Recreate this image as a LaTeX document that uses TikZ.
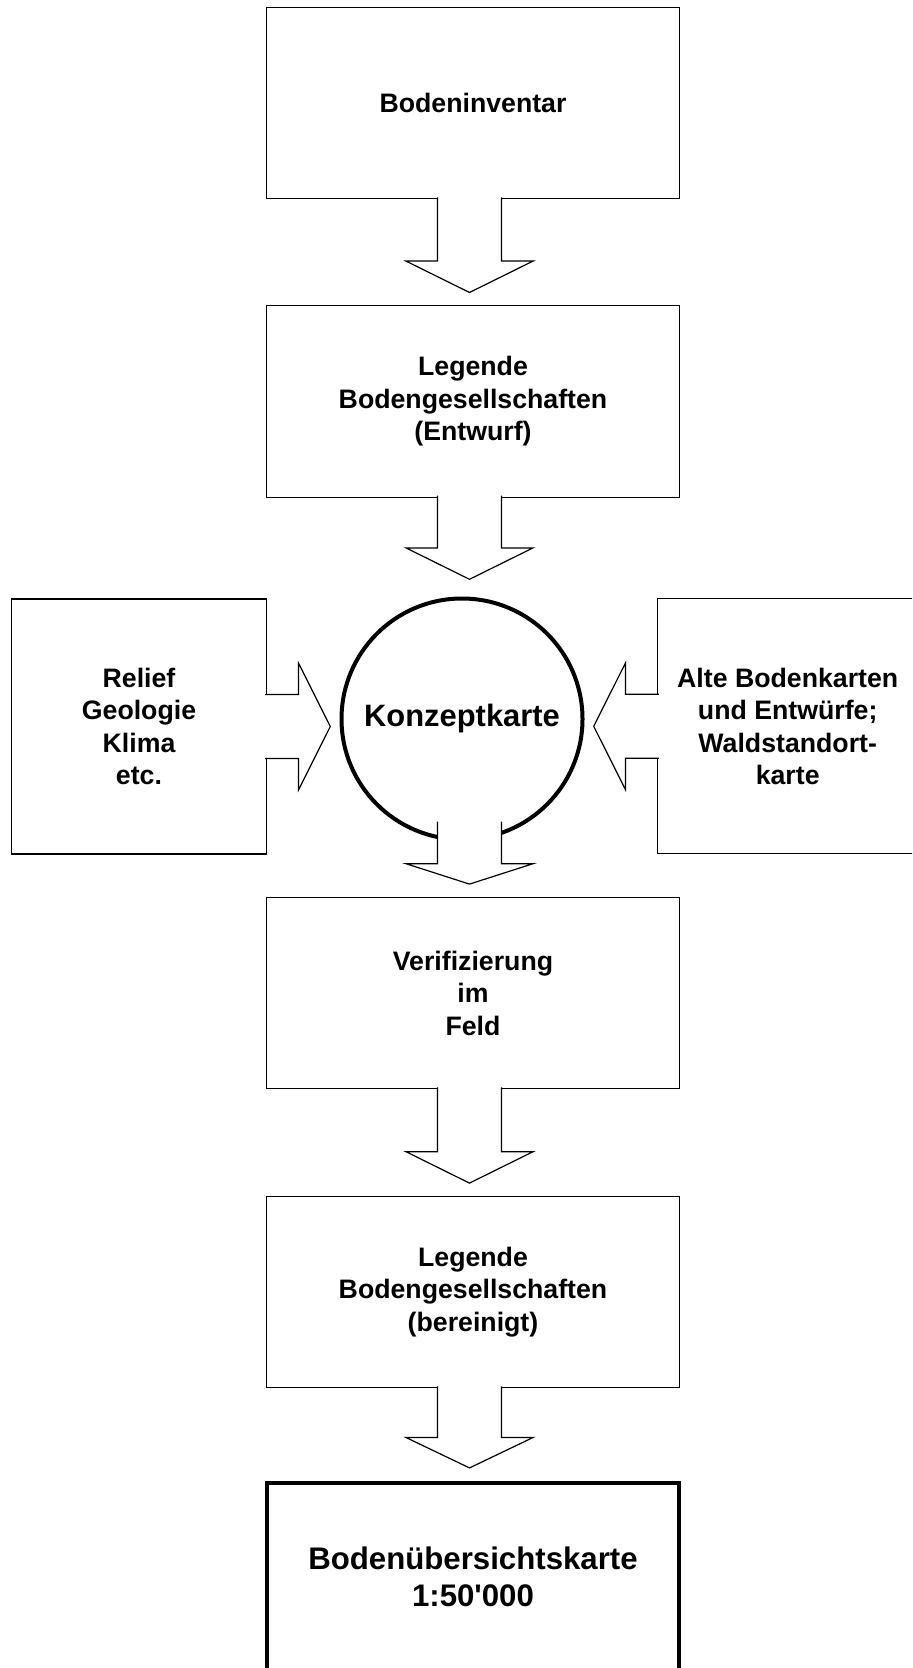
\documentclass[tikz,border=0pt]{standalone}
\usepackage{fontspec}
\setmainfont{Liberation Sans}
\usepackage{tikz}
\usetikzlibrary{calc}

\tikzset{
	box/.style = {draw, line width=0.6pt, align=center, inner sep=0pt,
		minimum width=206.3pt, minimum height=95.7pt,
		font=\bfseries\fontsize{13.35}{16.25}\selectfont},
	sidebox/.style = {box, minimum width=127.4pt, minimum height=127.5pt},
	mainbox/.style = {box, line width=2pt, minimum height=94.5pt,
		font=\bfseries\fontsize{15.6}{18.4}\selectfont},
	konzept/.style = {draw, circle, line width=2pt, inner sep=0pt, minimum size=120.5pt,
		font=\bfseries\fontsize{15.45}{18}\selectfont},
	blockarrow/.style = {draw, line width=0.6pt, fill=white, line join=miter},
	% hollow arrow pointing down, #1 = shaft start above source, #2 = head base above target
	downarrow/.style 2 args = {to path={
		($(\tikztotarget |- \tikztostart)+(-17.75pt,#1)$)
		-- ($(\tikztotarget)+(-17.75pt,#2)$) -- ($(\tikztotarget)+(-33.5pt,#2)$)
		-- ($(\tikztotarget)+(-1.75pt,6.3pt)$)
		-- ($(\tikztotarget)+(30pt,#2)$) -- ($(\tikztotarget)+(14.25pt,#2)$)
		-- ($(\tikztotarget |- \tikztostart)+(14.25pt,#1)$)}},
	eastarrow/.style = {to path={
		($(\tikztostart)+(-1pt,16pt)$)
		-- ($(\tikztotarget |- \tikztostart)+(-20.5pt,16pt)$) -- ++(0,15.7pt)
		-- ($(\tikztotarget |- \tikztostart)+(-4.6pt,0)$)
		-- ($(\tikztotarget |- \tikztostart)+(-20.5pt,-31.7pt)$) -- ++(0,15.7pt)
		-- ($(\tikztostart)+(-1pt,-16pt)$)}},
	westarrow/.style = {to path={
		($(\tikztostart)+(1pt,16pt)$)
		-- ($(\tikztotarget |- \tikztostart)+(20.5pt,16pt)$) -- ++(0,15.7pt)
		-- ($(\tikztotarget |- \tikztostart)+(4.6pt,0)$)
		-- ($(\tikztotarget |- \tikztostart)+(20.5pt,-31.7pt)$) -- ++(0,15.7pt)
		-- ($(\tikztostart)+(1pt,-16pt)$)}}
}

\begin{document}
\begin{tikzpicture}[x=0.5pt, y=-0.5pt]
	\clip (0,0) rectangle (912,1668);
	
	% main column
	\node[box] (inv) at (473,103) {Bodeninventar};
	\node[box] (entwurf) at (473,401.4) {Legende\\Bodengesellschaften\\(Entwurf)};
	\node[konzept] (konz) at (462,719) {Konzeptkarte};
	\node[box] (verif) at (473,993) {Verifizierung\\im\\Feld};
	\node[box] (bereinigt) at (473,1292) {Legende\\Bodengesellschaften\\(bereinigt)};
	\node[mainbox] (karte) at (473,1577) {Bodenübersichtskarte\\1:50\textquotesingle000};
	
	% inputs at the sides
	\node[sidebox] (relief) at (139,726.5) {Relief\\Geologie\\Klima\\etc.};
	\node[sidebox, minimum width=130.3pt] (alt) at (787.7,726.3) {Alte Bodenkarten\\und Entwürfe;\\Waldstandort-\\karte};
	
	\coordinate (konztop) at ($(konz.north -| entwurf.north)+(0,2.3pt)$);
	
	\draw[blockarrow] (inv.south) to[downarrow={1pt}{22pt}] (entwurf.north);
	\draw[blockarrow] (entwurf.south) to[downarrow={1pt}{22pt}] (konztop);
	\draw[blockarrow] (konz.south) to[downarrow={10pt}{16.5pt}] (verif.north);
	\draw[blockarrow] (verif.south) to[downarrow={1pt}{22pt}] (bereinigt.north);
	\draw[blockarrow] (bereinigt.south) to[downarrow={1pt}{21.5pt}] (karte.north);
	\draw[blockarrow] (relief.east) to[eastarrow] (konz.west);
	\draw[blockarrow] (alt.west) to[westarrow] (konz.east);
\end{tikzpicture}
\end{document}
